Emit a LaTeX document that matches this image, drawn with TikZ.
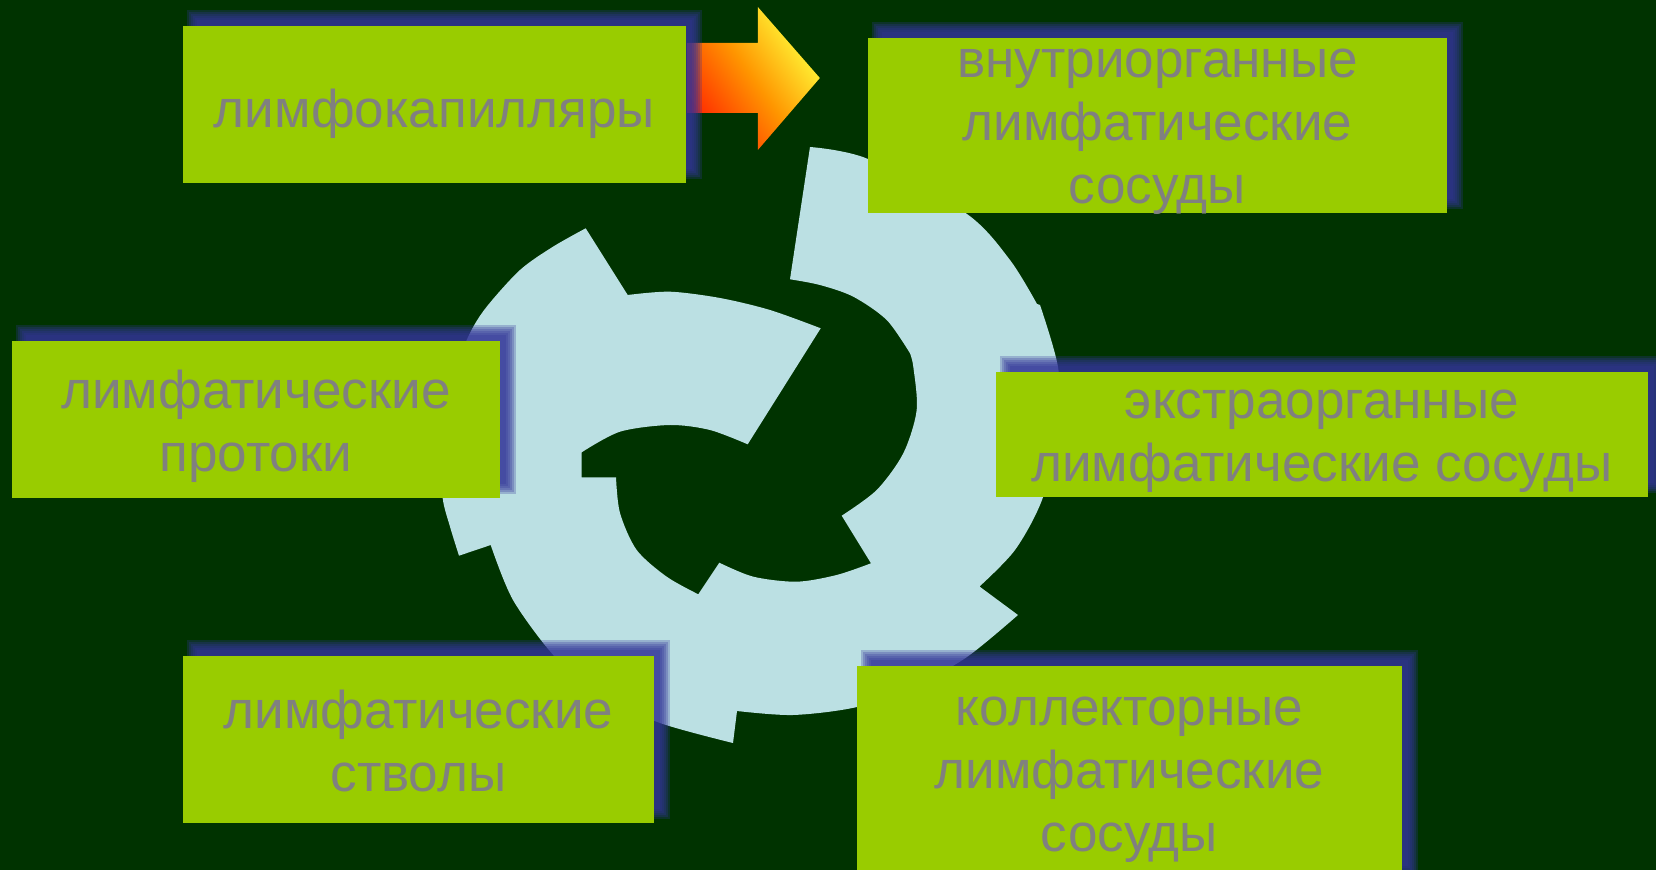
\documentclass[tikz,border=0pt]{standalone}
\usepackage{fontspec}
\setmainfont{Liberation Sans}
\usetikzlibrary{calc,positioning}
\pgfdeclarelayer{cycle}
\pgfdeclarelayer{glow}
\pgfsetlayers{cycle,glow,main}
\definecolor{bggreen}{RGB}{0, 51, 0}
\definecolor{boxgreen}{RGB}{153, 204, 0}
\definecolor{ringblue}{RGB}{187, 224, 227}
\definecolor{glowblue}{RGB}{51, 51, 153}
\definecolor{textgray}{RGB}{128, 128, 128}
\definecolor{arrowred}{RGB}{255, 40, 0}
\definecolor{arroworange}{RGB}{255, 150, 0}
\definecolor{arrowyellow}{RGB}{255, 255, 60}
\tikzstyle{box} = [rectangle, fill=boxgreen, inner sep=0pt,
  minimum height=1.57cm]
\tikzstyle{caption} = [text=textgray, align=center, yshift=-3pt,
  font=\fontsize{15.1pt}{17.9pt}\selectfont,
  execute at begin node=\strut, execute at end node=\strut]
\newcommand{\glowbehind}[1]{%
  \begin{pgfonlayer}{glow}
    \foreach \e in {-5,-3,-1,1,3,5}
      \fill[glowblue, opacity=0.27]
        ($(#1.north west)+(10-\e,-10-\e)$) rectangle ($(#1.south east)+(10+\e,-10+\e)$);
  \end{pgfonlayer}}

\begin{document}
\begin{tikzpicture}[x=0.01cm, y=-0.01cm]
  \useasboundingbox (0,0) rectangle (1656,870);

  %%%%%%%%%%%%%%%%%%%%%%%%%%%%%%%%%%%%%%%%%%%%%%%%%%%%%%%%%%%%%%
  %                        VESSEL BOXES                        %
  %%%%%%%%%%%%%%%%%%%%%%%%%%%%%%%%%%%%%%%%%%%%%%%%%%%%%%%%%%%%%%

  \node [box, minimum width=5.03cm,
    label={[caption]center:лимфокапилляры}] (capillaries) at (434.5,104.5) {};
  \node [box, minimum width=5.79cm, minimum height=1.75cm,
    label={[caption]center:внутриорганные\\лимфатические\\сосуды}] (intra) at (1157.5,125.5) {};
  \node [box, minimum width=6.52cm, minimum height=1.25cm,
    label={[caption]center:экстраорганные\\лимфатические сосуды}] (extra) at (1322,434.5) {};
  \node [box, minimum width=5.45cm, minimum height=2.14cm,
    label={[caption]center:коллекторные\\лимфатические\\сосуды}] (collector) at (1129.5,773) {};
  \node [box, minimum width=4.71cm, minimum height=1.67cm,
    label={[caption]center:лимфатические\\стволы}] (trunks) at (418.5,739.5) {};
  \node [box, minimum width=4.88cm,
    label={[caption]center:лимфатические\\протоки}] (ducts) at (256,419.5) {};

  \glowbehind{capillaries}
  \glowbehind{intra}
  \glowbehind{extra}
  \glowbehind{collector}
  \glowbehind{trunks}
  \glowbehind{ducts}

  %%%%%%%%%%%%%%%%%%%%%%%%%%%%%%%%%%%%%%%%%%%%%%%%%%%%%%%%%%%%%%
  %                     BACKGROUND AND CYCLE                   %
  %%%%%%%%%%%%%%%%%%%%%%%%%%%%%%%%%%%%%%%%%%%%%%%%%%%%%%%%%%%%%%

  \begin{pgfonlayer}{cycle}
    \fill[bggreen] (0,0) rectangle (1656,870);
    \fill[ringblue] (810,147)
      -- plot[smooth] coordinates {(810,147) (868,159) (967,214) (1010,260) (1037,304)}
      -- plot[smooth] coordinates {(1040,305) (1058,367) (1060,430) (1042,500) (1015,550) (979.5,586.5)}
      -- plot[smooth] coordinates {(1018,615) (967,657) (915,686) (857,707) (793,715) (737,711)}
      -- plot[smooth] coordinates {(733,743) (660,723) (600,695) (555,657) (513,600) (490.7,545)}
      -- plot[smooth] coordinates {(459,555.7) (450,526.7) (442.7,498.3) (441,455) (446,410) (455,370)
           (470,333) (486.7,306.7) (520,270) (553,246.7) (585.7,228.3)}
      -- plot[smooth] coordinates {(627.7,295) (670,291.7) (720,298) (770,310) (820.7,328.3)}
      -- plot[smooth] coordinates {(747.7,444.3) (710,430) (670,425) (620,431.7) (581.7,452.3)}
      -- (581.7,477.3)
      -- plot[smooth] coordinates {(616,477.3) (620,513) (636.7,550) (666.7,576.7) (698.3,594.3)}
      -- plot[smooth] coordinates {(719.3,562.7) (753.3,576.7) (796.7,581.7) (836.7,575) (871,563.3)}
      -- plot[smooth] coordinates {(841.7,515.7) (876.7,490) (903.3,453.3) (916.7,410) (913.3,366.7) (910,353.3)}
      -- plot[smooth] coordinates {(910,353.3) (886.7,320) (853.3,296.7) (820,285) (790,279.3)}
      -- cycle;

    % block arrow out of the capillaries box
    \shade[top color=arrowyellow, bottom color=arrowred, middle color=arroworange, shading angle=-55,
      shift={(capillaries.east)}]
      (0,-61.5) -- (71,-61.5) -- (71,-97.5) -- (133,-26.5) -- (71,45.5) -- (71,8.5) -- (0,8.5) -- cycle;
  \end{pgfonlayer}

\end{tikzpicture}
\end{document}
